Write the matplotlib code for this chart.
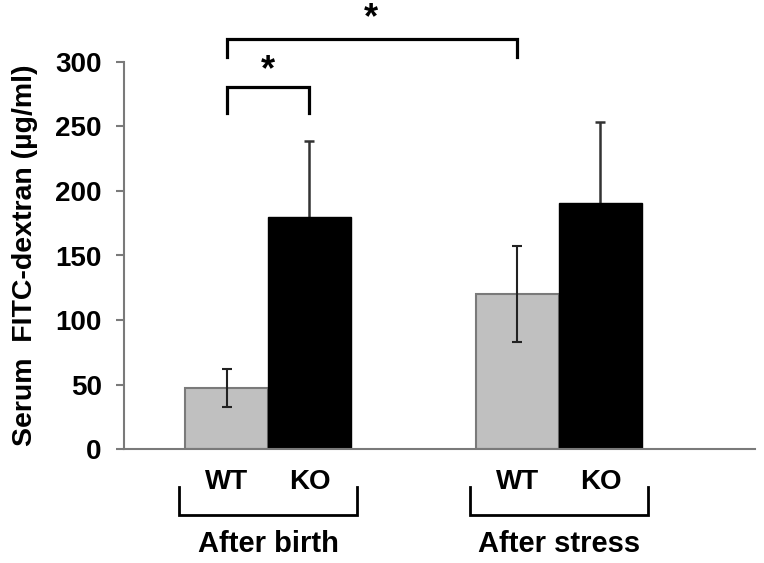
import matplotlib
matplotlib.use("Agg")
import matplotlib.pyplot as plt
import numpy as np

plt.rcParams['font.family'] = ['Liberation Sans', 'DejaVu Sans']
plt.rcParams['font.weight'] = 'bold'

groups = ["After birth", "After stress"]
genotypes = ["WT", "KO"]
wt_means = [47.5, 120]
wt_err = [14.5, 37]
ko_means = [180, 191]
ko_err = [59, 62]
yticks = [0, 50, 100, 150, 200, 250, 300]

fig = plt.figure(figsize=(7.64, 5.63), dpi=100)
W, H = 764, 563
ax = fig.add_axes([124 / W, 1 - 449.3 / H, (755 - 124) / W, (449.3 - 61.7) / H])

x = np.arange(len(groups))
bw = 0.285
gray_edge = "#7a7a7a"

ax.bar(x - bw / 2, wt_means, width=bw, color="#c0c0c0", edgecolor=gray_edge, linewidth=1.5, zorder=2)
ax.bar(x + bw / 2, ko_means, width=bw, color="black", edgecolor="black", linewidth=1.0, zorder=2)
ax.errorbar(x - bw / 2, wt_means, yerr=wt_err, fmt="none", ecolor="#222222", elinewidth=1.5,
            capsize=3.5, capthick=1.5, zorder=3)
ax.errorbar(x + bw / 2, ko_means, yerr=ko_err, fmt="none", ecolor="#333333", elinewidth=1.8,
            capsize=3.5, capthick=1.8, zorder=1)

ax.set_xlim(-0.495, 1.674)
ax.set_ylim(0, 300)
ax.set_yticks(yticks)
ax.set_yticklabels([str(t) for t in yticks], fontsize=20, fontweight='bold')
ax.set_xticks([])
for s in ["top", "right"]:
    ax.spines[s].set_visible(False)
for s in ["left", "bottom"]:
    ax.spines[s].set_color(gray_edge)
    ax.spines[s].set_linewidth(1.5)
ax.tick_params(axis='y', direction='out', length=6, width=1.5, color=gray_edge, pad=10)

ax.set_ylabel("Serum  FITC-dextran (µg/ml)", fontsize=20.5, fontweight='bold')
ax.yaxis.set_label_coords(-0.136, 0.5)

# significance brackets
lw_br = 2.3
c0 = x[0] - bw / 2
c1 = x[0] + bw / 2
c2 = x[1] - bw / 2
ax.plot([c0, c0, c1, c1], [260.5, 280.2, 280.2, 260.5], color="black", lw=lw_br, clip_on=False,
        solid_joinstyle='miter')
ax.text((c0 + c1) / 2, 293, "*", ha="center", va="center", fontsize=26, fontweight='bold')
ax.plot([c0, c0, c2, c2], [303.4, 317.6, 317.6, 303.4], color="black", lw=lw_br, clip_on=False,
        solid_joinstyle='miter')
ax.text((c0 + c2) / 2 - 0.005, 333, "*", ha="center", va="center", fontsize=26, fontweight='bold')

# genotype labels and group brackets below the axis
trans = ax.get_xaxis_transform()
for i, g in enumerate(groups):
    ax.text(x[i] - bw / 2, -0.085, genotypes[0], transform=trans, ha="center", va="center",
            fontsize=20, fontweight='bold')
    ax.text(x[i] + bw / 2, -0.085, genotypes[1], transform=trans, ha="center", va="center",
            fontsize=20, fontweight='bold')
    left = x[i] - bw - 0.02
    right = x[i] + bw + 0.02
    ax.plot([left, left, right, right], [-0.097 * 300, -0.169 * 300, -0.169 * 300, -0.097 * 300],
            color="black", lw=2.0, clip_on=False, solid_joinstyle='miter')
    ax.text(x[i], -0.245, g, transform=trans, ha="center", va="center", fontsize=21,
            fontweight='bold')

fig.savefig("out.png", dpi=100)
